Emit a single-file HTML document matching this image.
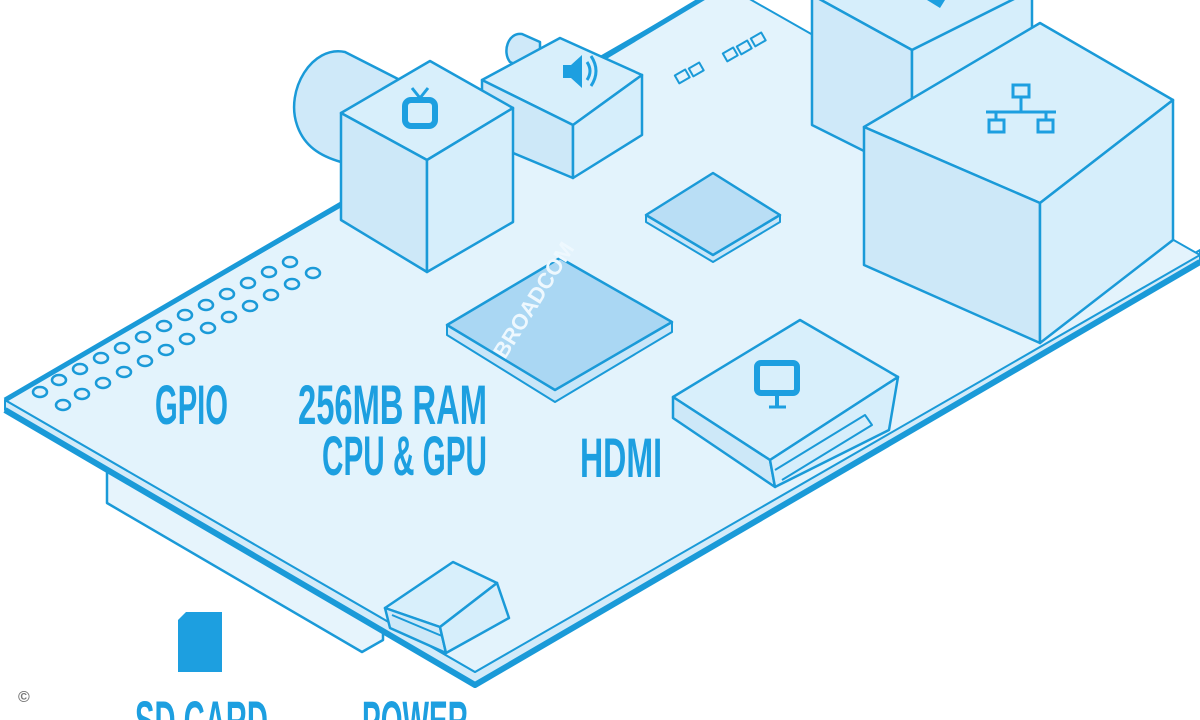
<!DOCTYPE html>
<html><head><meta charset="utf-8"><style>
html,body{margin:0;padding:0;background:#fff;}
svg{display:block;}
text{font-family:"Liberation Sans",sans-serif;font-weight:bold;fill:#1d9fe0;}
</style></head><body>
<svg width="1200" height="720" viewBox="0 0 1200 720" xmlns="http://www.w3.org/2000/svg">
<g stroke="#1a9ad8" stroke-linejoin="round" fill="#e2f2fc">
<polygon points="107,470 107,503 362,652 383,640 383,600" fill="#e6f4fc" stroke-width="2.5"/>
<polygon points="5,400 475,672 1200,250 1200,262 475,685 5,410" fill="#d3ebf9" stroke-width="2"/>
<polyline points="5,410 475,685 1200,262" fill="none" stroke-width="6"/>
<polygon points="5,400 725,-15 1200,255 475,672" fill="#e3f3fc" stroke-width="2"/>
<polyline points="5,400 360,193" fill="none" stroke-width="5"/>
<polyline points="600,60 725,-15" fill="none" stroke-width="5"/>
<g fill="none" stroke-width="2.5">
<ellipse cx="290" cy="262" rx="7" ry="5"/><ellipse cx="269" cy="272" rx="7" ry="5"/><ellipse cx="248" cy="283" rx="7" ry="5"/><ellipse cx="227" cy="294" rx="7" ry="5"/><ellipse cx="206" cy="305" rx="7" ry="5"/><ellipse cx="185" cy="315" rx="7" ry="5"/><ellipse cx="164" cy="326" rx="7" ry="5"/><ellipse cx="143" cy="337" rx="7" ry="5"/><ellipse cx="122" cy="348" rx="7" ry="5"/><ellipse cx="101" cy="358" rx="7" ry="5"/><ellipse cx="80" cy="369" rx="7" ry="5"/><ellipse cx="59" cy="380" rx="7" ry="5"/><ellipse cx="40" cy="392" rx="7" ry="5"/>
<ellipse cx="313" cy="273" rx="7" ry="5"/><ellipse cx="292" cy="284" rx="7" ry="5"/><ellipse cx="271" cy="295" rx="7" ry="5"/><ellipse cx="250" cy="306" rx="7" ry="5"/><ellipse cx="229" cy="317" rx="7" ry="5"/><ellipse cx="208" cy="328" rx="7" ry="5"/><ellipse cx="187" cy="339" rx="7" ry="5"/><ellipse cx="166" cy="350" rx="7" ry="5"/><ellipse cx="145" cy="361" rx="7" ry="5"/><ellipse cx="124" cy="372" rx="7" ry="5"/><ellipse cx="103" cy="383" rx="7" ry="5"/><ellipse cx="82" cy="394" rx="7" ry="5"/><ellipse cx="63" cy="405" rx="7" ry="5"/>
</g>
<polygon points="812,-5 912,50 1032,-10 1032,-20 812,-20" fill="#d6eefb" stroke-width="2.5"/>
<polygon points="812,-5 912,50 912,175 812,125" fill="#cfe9f9" stroke-width="2.5"/>
<polygon points="912,50 1032,-10 1032,110 912,175" fill="#d6eefb" stroke-width="2.5"/>
<path d="M400,80 L345,52 C312,45 285,90 297,125 C304,146 320,156 341,162 L400,190 Z" fill="#cfe9f9" stroke-width="2.5"/>
<path d="M540,42 L522,34 C508,32 502,52 510,62 L540,75 Z" fill="#cfe9f9" stroke-width="2.5"/>
<polygon points="482,80 560,38 642,75 573,125" fill="#d8effb" stroke-width="2.5"/>
<polygon points="482,80 573,125 573,178 482,140" fill="#cde8f8" stroke-width="2.5"/>
<polygon points="573,125 642,75 642,135 573,178" fill="#d6eefb" stroke-width="2.5"/>
<polygon points="430,61 341,113 427,160 513,108" fill="#d8effb" stroke-width="2.5"/>
<polygon points="341,113 427,160 427,272 341,220" fill="#cde8f8" stroke-width="2.5"/>
<polygon points="427,160 513,108 513,222 427,272" fill="#d6eefb" stroke-width="2.5"/>
<g fill="#e3f3fc" stroke-width="2">
<rect x="676" y="72" width="12" height="9" transform="rotate(-30 682 76)"/>
<rect x="690" y="65" width="12" height="9" transform="rotate(-30 696 69)"/>
<rect x="724" y="50" width="12" height="9" transform="rotate(-30 730 54)"/>
<rect x="738" y="43" width="12" height="9" transform="rotate(-30 744 47)"/>
<rect x="752" y="35" width="12" height="9" transform="rotate(-30 758 39)"/>
</g>
<polygon points="1040,23 864,127 1040,203 1173,100" fill="#d8effb" stroke-width="2.5"/>
<polygon points="864,127 1040,203 1040,343 864,265" fill="#cde8f8" stroke-width="2.5"/>
<polygon points="1040,203 1173,100 1173,240 1040,343" fill="#d6eefb" stroke-width="2.5"/>
<polygon points="646,215 713,255 780,215 780,222 713,262 646,222" fill="#c9e6f8" stroke-width="2"/>
<polygon points="713,173 646,215 713,255 780,215" fill="#b9def5" stroke-width="2.5"/>
<polygon points="447,325 555,390 672,322 672,332 555,402 447,335" fill="#c9e6f8" stroke-width="2"/>
<polygon points="560,258 447,325 555,390 672,322" fill="#aad7f3" stroke-width="2.5"/>
<polygon points="673,397 800,320 898,377 770,460" fill="#d8effb" stroke-width="2.5"/>
<polygon points="673,397 770,460 775,487 673,418" fill="#cde8f8" stroke-width="2.5"/>
<polygon points="770,460 898,377 889,430 775,487" fill="#d6eefb" stroke-width="2.5"/>
<polyline points="775,470 865,415 872,425 782,480" fill="none" stroke-width="2"/>
<polygon points="385,608 453,562 497,583 440,627" fill="#d8effb" stroke-width="2.5"/>
<polygon points="385,608 440,627 446,653 390,628" fill="#cde8f8" stroke-width="2.5"/>
<polygon points="440,627 497,583 509,618 446,653" fill="#d6eefb" stroke-width="2.5"/>
<line x1="392" y1="615" x2="442" y2="636" stroke-width="2"/>
</g>
<g fill="#1d9fe0" stroke="#1d9fe0">
<rect x="405" y="100" width="30" height="26" rx="6" fill="none" stroke-width="6"/>
<line x1="412" y1="88" x2="420" y2="98" stroke-width="3"/><line x1="428" y1="88" x2="420" y2="98" stroke-width="3"/>
<polygon points="563,65 571,65 582,55 582,88 571,78 563,78" stroke="none"/>
<path d="M587,62 Q593,71 587,80 M591,56 Q601,71 591,86" fill="none" stroke-width="3"/>
<rect x="757" y="363" width="40" height="30" rx="4" fill="none" stroke-width="6"/>
<line x1="777" y1="396" x2="777" y2="406" stroke-width="4"/><line x1="769" y1="407" x2="786" y2="407" stroke-width="3"/>
<g fill="none" stroke-width="3"><rect x="1013" y="85" width="16" height="12"/><line x1="1021" y1="97" x2="1021" y2="112"/><line x1="986" y1="112" x2="1056" y2="112"/><line x1="996" y1="112" x2="996" y2="120"/><line x1="1046" y1="112" x2="1046" y2="120"/><rect x="989" y="120" width="15" height="12"/><rect x="1038" y="120" width="15" height="12"/></g>
<polygon points="927,0 945,0 940,8" stroke="none"/>
<path d="M178,620 L186,612 L222,612 L222,672 L178,672 Z" stroke="none"/>
</g>
<text x="0" y="0" font-size="22" style="fill:#eef8fe" transform="translate(505,360) rotate(-58)">BROADCOM</text>
<text x="18" y="702" font-size="16" font-weight="normal" style="fill:#777">©</text>
<text x="155" y="424" font-size="56" textLength="73" lengthAdjust="spacingAndGlyphs">GPIO</text>
<text x="298" y="424" font-size="56" textLength="189" lengthAdjust="spacingAndGlyphs">256MB RAM</text>
<text x="322" y="475" font-size="56" textLength="165" lengthAdjust="spacingAndGlyphs">CPU &amp; GPU</text>
<text x="580" y="477" font-size="56" textLength="82" lengthAdjust="spacingAndGlyphs">HDMI</text>
<text x="135" y="740" font-size="56" textLength="133" lengthAdjust="spacingAndGlyphs">SD CARD</text>
<text x="362" y="740" font-size="56" textLength="106" lengthAdjust="spacingAndGlyphs">POWER</text>
</svg>
</body></html>
